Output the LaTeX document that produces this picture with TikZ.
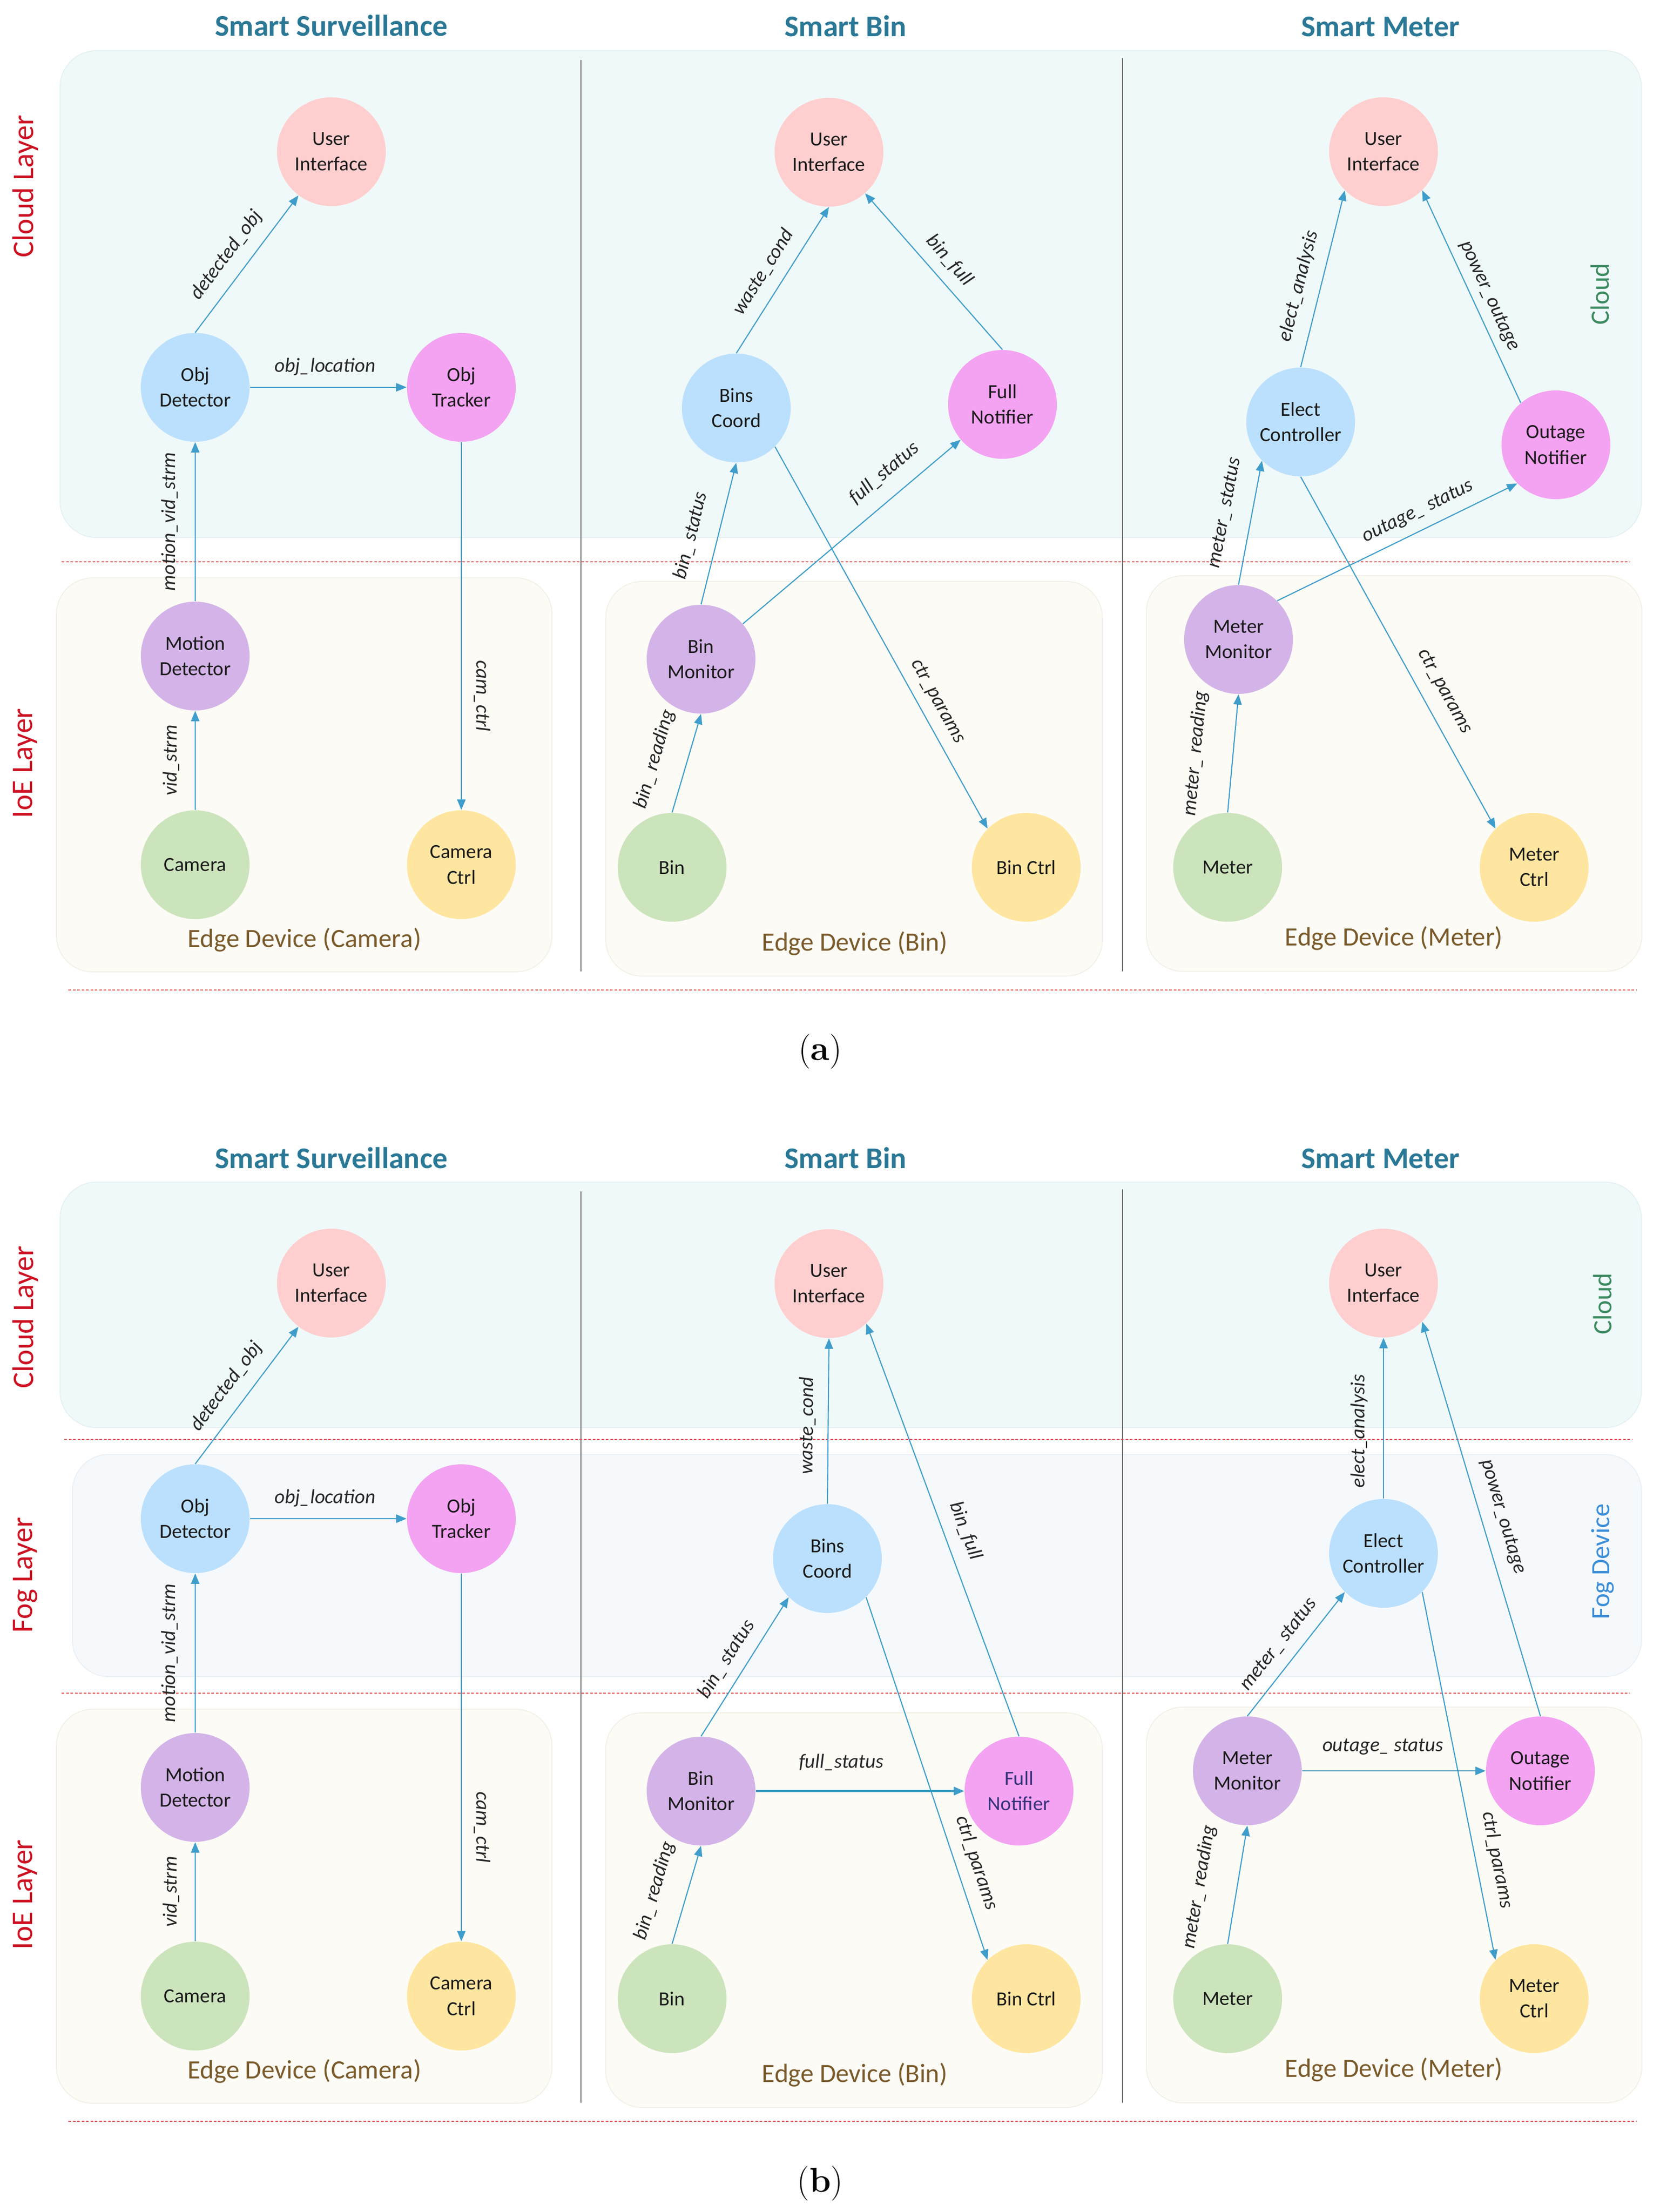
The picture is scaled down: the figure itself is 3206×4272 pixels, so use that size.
\documentclass[tikz,border=0pt]{standalone}
\usepackage{fontspec}
\newfontfamily\carl{Carlito}
\usetikzlibrary{arrows.meta}
\definecolor{cUI}{HTML}{FFCFCF}
\definecolor{cBlue}{HTML}{BBE0FD}
\definecolor{cMag}{HTML}{F4A2F2}
\definecolor{cPur}{HTML}{D4B4E8}
\definecolor{cGrn}{HTML}{CCE4BC}
\definecolor{cYel}{HTML}{FFE6A0}
\definecolor{cArrow}{HTML}{3E9DCB}
\definecolor{cTitle}{HTML}{2A7896}
\definecolor{cRed}{HTML}{CC1122}
\definecolor{cCloudTxt}{HTML}{3A8A60}
\definecolor{cFogTxt}{HTML}{3A8ED8}
\definecolor{cEdge}{HTML}{7A5A2A}
\definecolor{cCloudBox}{HTML}{F0F9F9}
\definecolor{cCloudLine}{HTML}{E4F1F1}
\definecolor{cFogBox}{HTML}{F6F9FC}
\definecolor{cFogLine}{HTML}{EAF0F5}
\definecolor{cIoEBox}{HTML}{FCFBF6}
\definecolor{cIoELine}{HTML}{F3F0E6}
\definecolor{cSep}{HTML}{707070}
\definecolor{cDash}{HTML}{E35A5A}
\definecolor{cNavy}{HTML}{33337A}
\begin{document}
\begin{tikzpicture}[x=0.01cm, y=-0.01cm,
  nd/.style={circle, minimum size=2.1cm, inner sep=0pt, align=center, text=black!90, font=\carl\fontsize{11}{14}\selectfont},
  nUI/.style={nd, fill=cUI}, nBlue/.style={nd, fill=cBlue}, nMag/.style={nd, fill=cMag},
  nPur/.style={nd, fill=cPur}, nGrn/.style={nd, fill=cGrn}, nYel/.style={nd, fill=cYel},
  flow/.style={draw=cArrow, line width=0.6pt, -{Triangle[length=0.2cm,width=0.16cm]}},
  lab/.style={font=\carl\itshape\fontsize{11}{13}\selectfont, sloped, inner sep=0pt, text height=7.7pt, text depth=2.2pt, text=black!85},
  ttl/.style={font=\carl\bfseries\fontsize{16.5}{20}\selectfont, text=cTitle},
  layerlbl/.style={font=\carl\fontsize{16.5}{20}\selectfont, text=cRed, rotate=90},
  sidelbl/.style={font=\carl\fontsize{14.5}{18}\selectfont, rotate=90},
  edgelbl/.style={font=\carl\fontsize{14.5}{18}\selectfont, text=cEdge},
  cloudbox/.style={fill=cCloudBox, draw=cCloudLine, line width=0.5pt, rounded corners=0.7cm},
  fogbox/.style={fill=cFogBox, draw=cFogLine, line width=0.5pt, rounded corners=0.7cm},
  ioebox/.style={fill=cIoEBox, draw=cIoELine, line width=0.5pt, rounded corners=0.7cm},
  sepline/.style={draw=cSep, line width=0.7pt},
  dashline/.style={draw=cDash, line width=0.6pt, dash pattern=on 0.05cm off 0.035cm},
  capt/.style={font=\fontsize{19}{22}\selectfont}
]
\useasboundingbox (0,0) rectangle (3206,4272);

%%%%%%%%%%%%%%%%%%%% (a) %%%%%%%%%%%%%%%%%%%%
\path[cloudbox] (116,98) rectangle (3170,1038);
\path[ioebox] (109,1116) rectangle (1066,1877);
\path[ioebox] (1170,1123) rectangle (2129,1885);
\path[ioebox] (2214,1112) rectangle (3171,1876);
\draw[sepline] (1122,116) -- (1122,1876);
\draw[sepline] (2168,112) -- (2168,1876);
\draw[dashline] (119,1085) -- (3147,1085);
\draw[dashline] (132,1912) -- (3160,1912);

\node[ttl] (tSa) at (640,49) {Smart Surveillance};
\node[ttl] (tBa) at (1633,50) {Smart Bin};
\node[ttl] (tMa) at (2666,52) {Smart Meter};
\node[layerlbl] (lCa) at (49,360) {Cloud Layer};
\node[layerlbl] (lIa) at (49,1474) {IoE Layer};
\node[sidelbl, text=cCloudTxt] (sCa) at (3090,568) {Cloud};

\node[nUI] (aUIs) at (640,293) {User\\Interface};
\node[nBlue] (aOD) at (377,748) {Obj\\Detector};
\node[nMag] (aOT) at (891,748) {Obj\\Tracker};
\node[nPur] (aMD) at (377,1267) {Motion\\Detector};
\node[nGrn] (aCam) at (377,1670) {Camera};
\node[nYel] (aCC) at (891,1670) {Camera\\Ctrl};
\node[edgelbl] (eSa) at (588,1815) {Edge Device (Camera)};

\node[nUI] (aUIb) at (1601,294) {User\\Interface};
\node[nBlue] (aBC) at (1422,788) {Bins\\Coord};
\node[nMag] (aFN) at (1936,781) {Full\\Notifier};
\node[nPur] (aBM) at (1354,1273) {Bin\\Monitor};
\node[nGrn] (aBin) at (1298,1675) {Bin};
\node[nYel] (aBCt) at (1982,1675) {Bin Ctrl};
\node[edgelbl] (eBa) at (1651,1822) {Edge Device (Bin)};

\node[nUI] (aUIm) at (2672,293) {User\\Interface};
\node[nBlue] (aEC) at (2512,815) {Elect\\Controller};
\node[nMag] (aON) at (3005,859) {Outage\\Notifier};
\node[nPur] (aMM) at (2392,1235) {Meter\\Monitor};
\node[nGrn] (aMe) at (2371,1675) {Meter};
\node[nYel] (aMC) at (2963,1675) {Meter\\Ctrl};
\node[edgelbl] (eMa) at (2692,1812) {Edge Device (Meter)};

\draw[flow] (aOD.north) -- node[lab, pos=0.47, above=6.4pt] {detected\_obj} (aUIs);
\draw[flow] (aOD) -- node[lab, pos=0.48, above=5.8pt] {obj\_location} (aOT);
\draw[flow] (aMD.north) -- node[lab, above=8.5pt] {motion\_vid\_strm} (aOD.south);
\draw[flow] (aCam.north) -- node[lab, above=7.5pt] {vid\_strm} (aMD.south);
\draw[flow] (aOT.south) -- node[lab, pos=0.69, above=6pt] {cam\_ctrl} (aCC.north);

\draw[flow] (aBC.north) -- node[lab, pos=0.48, above=5.8pt] {waste\_cond} (aUIb.south);
\draw[flow] (aFN.north) -- node[lab, pos=0.49, above=5pt] {bin\_full} (aUIb);
\draw[flow] (aBM.north) -- node[lab, pos=0.44, above=9pt] {bin\_ status} (aBC.south);
\draw[flow] (aBM) -- node[lab, pos=0.72, above=7.5pt] {full\_status} (aFN);
\draw[flow] (aBC.-45) -- node[lab, pos=0.69, above=5pt] {ctr\_params} (aBCt.135);
\draw[flow] (aBin.north) -- node[lab, pos=0.45, above=12pt] {bin\_ reading} (aBM.south);

\draw[flow] (aEC.north) -- node[lab, pos=0.43, above=6.4pt] {elect\_analysis} (aUIm.225);
\draw[flow] (aON.130) -- node[lab, pos=0.47, above=4pt] {power\_outage} (aUIm.-45);
\draw[flow] (aMM.north) -- node[lab, pos=0.54, above=9.5pt] {meter\_ status} (aEC.225);
\draw[flow] (aMM.45) -- node[lab, pos=0.62, above=5pt] {outage\_ status} (aON.225);
\draw[flow] (aEC.south) -- node[lab, pos=0.64, above=7pt] {ctr\_params} (aMC.135);
\draw[flow] (aMe.north) -- node[lab, pos=0.47, above=15pt] {meter\_ reading} (aMM.south);

\node[capt] (capA) at (1584,2031) {(\textbf{a})};

%%%%%%%%%%%%%%%%%%%% (b) %%%%%%%%%%%%%%%%%%%%
\path[cloudbox] (116,2283) rectangle (3170,2757);
\path[fogbox] (140,2809) rectangle (3170,3238);
\path[ioebox] (109,3301) rectangle (1066,4062);
\path[ioebox] (1170,3308) rectangle (2129,4070);
\path[ioebox] (2214,3297) rectangle (3171,4061);
\draw[sepline] (1122,2301) -- (1122,4061);
\draw[sepline] (2168,2297) -- (2168,4061);
\draw[dashline] (124,2780) -- (3152,2780);
\draw[dashline] (119,3270) -- (3147,3270);
\draw[dashline] (132,4097) -- (3160,4097);

\node[ttl] (tSb) at (640,2236) {Smart Surveillance};
\node[ttl] (tBb) at (1633,2236) {Smart Bin};
\node[ttl] (tMb) at (2666,2238) {Smart Meter};
\node[layerlbl] (lCb) at (49,2544) {Cloud Layer};
\node[layerlbl] (lFb) at (49,3042) {Fog Layer};
\node[layerlbl] (lIb) at (49,3659) {IoE Layer};
\node[sidelbl, text=cCloudTxt] (sCb) at (3095,2518) {Cloud};
\node[sidelbl, text=cFogTxt] (sFb) at (3095,3016) {Fog Device};

\node[nUI] (bUIs) at (640,2478) {User\\Interface};
\node[nBlue] (bOD) at (377,2933) {Obj\\Detector};
\node[nMag] (bOT) at (891,2933) {Obj\\Tracker};
\node[nPur] (bMD) at (377,3452) {Motion\\Detector};
\node[nGrn] (bCam) at (377,3855) {Camera};
\node[nYel] (bCC) at (891,3855) {Camera\\Ctrl};
\node[edgelbl] (eSb) at (588,4000) {Edge Device (Camera)};

\node[nUI] (bUIb) at (1601,2479) {User\\Interface};
\node[nBlue] (bBC) at (1598,3010) {Bins\\Coord};
\node[nPur] (bBM) at (1354,3459) {Bin\\Monitor};
\node[nMag, text=cNavy] (bFN) at (1968,3459) {Full\\Notifier};
\node[nGrn] (bBin) at (1298,3860) {Bin};
\node[nYel] (bBCt) at (1982,3860) {Bin Ctrl};
\node[edgelbl] (eBb) at (1651,4007) {Edge Device (Bin)};

\node[nUI] (bUIm) at (2672,2478) {User\\Interface};
\node[nBlue] (bEC) at (2672,3000) {Elect\\Controller};
\node[nPur] (bMM) at (2409,3420) {Meter\\Monitor};
\node[nMag] (bON) at (2975,3420) {Outage\\Notifier};
\node[nGrn] (bMe) at (2371,3860) {Meter};
\node[nYel] (bMC) at (2963,3860) {Meter\\Ctrl};
\node[edgelbl] (eMb) at (2692,3997) {Edge Device (Meter)};

\draw[flow] (bOD.north) -- node[lab, pos=0.47, above=6.4pt] {detected\_obj} (bUIs);
\draw[flow] (bOD) -- node[lab, pos=0.48, above=5.8pt] {obj\_location} (bOT);
\draw[flow] (bMD.north) -- node[lab, above=8.5pt] {motion\_vid\_strm} (bOD.south);
\draw[flow] (bCam.north) -- node[lab, above=7.5pt] {vid\_strm} (bMD.south);
\draw[flow] (bOT.south) -- node[lab, pos=0.69, above=6pt] {cam\_ctrl} (bCC.north);

\draw[flow] (bBC.north) -- node[lab, pos=0.47, above=5.8pt] {waste\_cond} (bUIb.south);
\draw[flow] (bFN.north) -- node[lab, pos=0.48, above=6.2pt] {bin\_full} (bUIb.-47);
\draw[flow] (bBM.north) -- node[lab, pos=0.48, above=5.2pt] {bin\_ status} (bBC.225);
\draw[flow, line width=0.9pt] (bBM) -- node[lab, pos=0.41, above=10pt] {full\_status} (bFN);
\draw[flow] (bBC.-45) -- node[lab, pos=0.75, above=5.8pt] {ctrl\_params} (bBCt.135);
\draw[flow] (bBin.north) -- node[lab, pos=0.45, above=12pt] {bin\_ reading} (bBM.south);

\draw[flow] (bEC.north) -- node[lab, pos=0.42, above=8pt] {elect\_analysis} (bUIm.south);
\draw[flow] (bON.north) -- node[lab, pos=0.49, above=6.6pt] {power\_outage} (bUIm.-45);
\draw[flow] (bMM.north) -- node[lab, pos=0.48, above=5.5pt] {meter\_ status} (bEC.225);
\draw[flow, line width=0.8pt] (bMM) -- node[lab, pos=0.44, above=8pt] {outage\_ status} (bON);
\draw[flow] (bEC.-45) -- node[lab, pos=0.74, above=6.2pt] {ctrl\_params} (bMC.135);
\draw[flow] (bMe.north) -- node[lab, pos=0.43, above=15pt] {meter\_ reading} (bMM.south);

\node[capt] (capB) at (1584,4217) {(\textbf{b})};
\end{tikzpicture}
\end{document}
